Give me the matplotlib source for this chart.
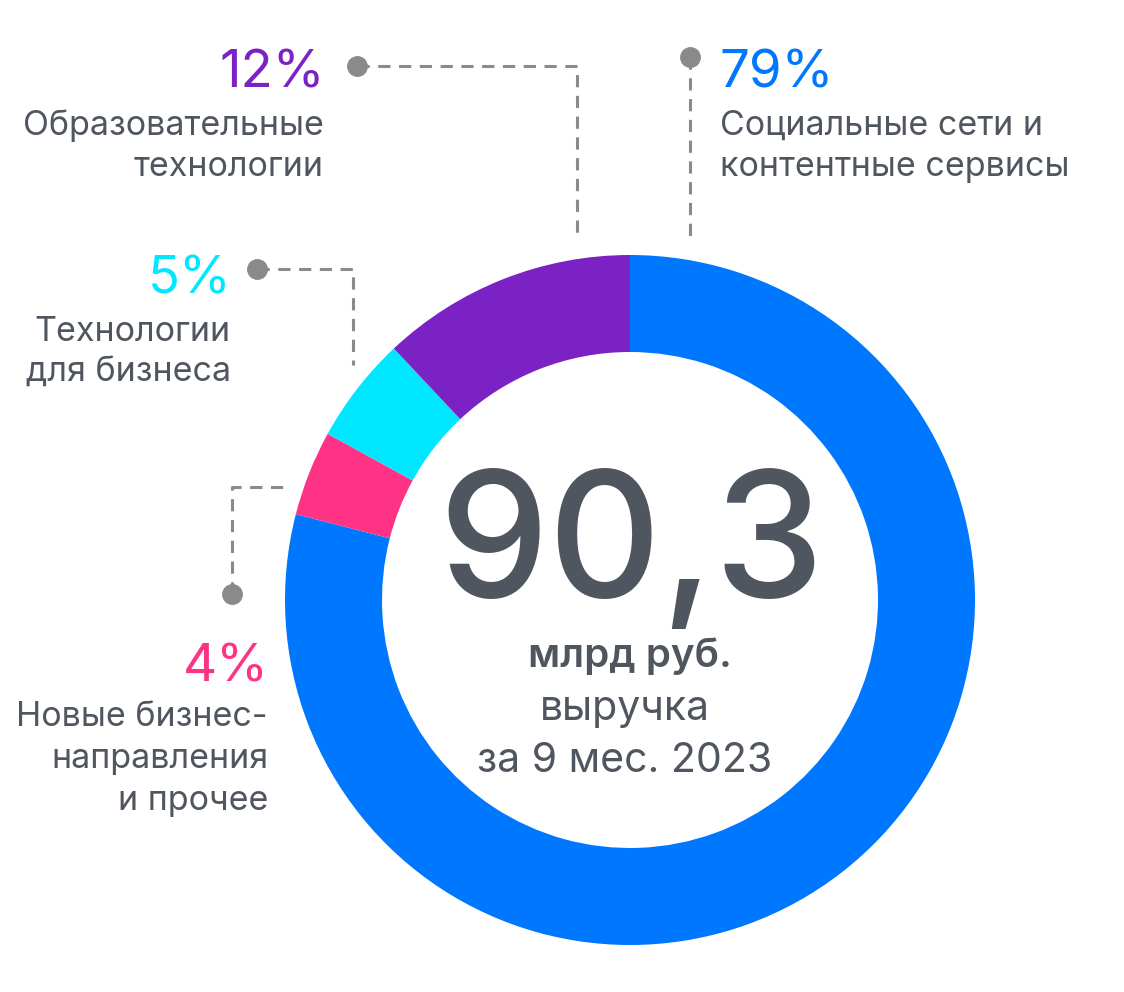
import matplotlib
matplotlib.use("Agg")
import matplotlib.pyplot as plt

# Data
labels = ["Социальные сети и\nконтентные сервисы", "Новые бизнес-\nнаправления\nи прочее",
          "Технологии\nдля бизнеса", "Образовательные\nтехнологии"]
shares = [79, 4, 5, 12]
pct_labels = ["79%", "4%", "5%", "12%"]
colors = ["#0077FF", "#FF3385", "#00E8FF", "#7B22C4"]
total_value = "90,3"
total_unit = "млрд руб."
total_desc = "выручка\nза 9 мес. 2023"

W, H = 1124, 992
fig = plt.figure(figsize=(W / 100, H / 100), dpi=100)
ax = fig.add_axes([0, 0, 1, 1])

def Y(py):
    return H - py

plt.rcParams["font.family"] = ["Inter", "DejaVu Sans"]
txt = "#50565F"
gray = "#8A8A8A"

ax.pie(shares, colors=colors, startangle=90, counterclock=False,
       center=(630, Y(600)), radius=345,
       wedgeprops=dict(width=97, linewidth=0), frame=True)
ax.set_xlim(0, W)
ax.set_ylim(0, H)
ax.set_aspect("equal")
ax.axis("off")

# connectors
def conn(xs, ys, dot):
    ax.plot(xs, [Y(v) for v in ys], color=gray, lw=2.2, ls=(0, (4, 2.8)), zorder=3)
    ax.plot([dot[0]], [Y(dot[1])], "o", color=gray, ms=14, zorder=4)

conn([690, 690], [57, 238], (690, 57))
conn([357, 577, 577], [66, 66, 235], (357, 66))
conn([257, 353, 353], [269, 269, 365], (257, 269))
conn([232, 232, 287], [594, 487, 487], (232, 594))

pct_fs = 38
lab_fs = 24.5
lw_ = "normal"
# 79%
ax.text(720, Y(87), pct_labels[0], color=colors[0], fontsize=pct_fs, ha="left", va="baseline")
for i, line in enumerate(labels[0].split("\n")):
    ax.text(720, Y(135 + 41 * i), line, color=txt, fontsize=lab_fs, fontweight=lw_, ha="left", va="baseline")
# 12%
ax.text(325, Y(87), pct_labels[3], color=colors[3], fontsize=pct_fs, ha="right", va="baseline")
for i, line in enumerate(labels[3].split("\n")):
    ax.text(324, Y(135 + 41 * i), line, color=txt, fontsize=lab_fs, fontweight=lw_, ha="right", va="baseline")
# 5%
ax.text(232, Y(293), pct_labels[2], color=colors[2], fontsize=pct_fs, ha="right", va="baseline")
for i, line in enumerate(labels[2].split("\n")):
    ax.text(231, Y(341 + 41 * i), line, color=txt, fontsize=lab_fs, fontweight=lw_, ha="right", va="baseline")
# 4%
ax.text(269, Y(682), pct_labels[1], color=colors[1], fontsize=pct_fs, ha="right", va="baseline")
for i, line in enumerate(labels[1].split("\n")):
    ax.text(268, Y(726 + 42 * i), line, color=txt, fontsize=lab_fs, fontweight=lw_, ha="right", va="baseline")

# center
ax.text(631, Y(597), total_value, color=txt, fontsize=126, fontweight="medium", ha="center", va="baseline")
ax.text(630, Y(667), total_unit, color=txt, fontsize=29, fontweight="semibold", ha="center", va="baseline")
for i, line in enumerate(total_desc.split("\n")):
    ax.text(625, Y(720 + 52 * i), line, color=txt, fontsize=29.5, fontweight=lw_, ha="center", va="baseline")

fig.savefig("out.png", dpi=100, facecolor="white")
